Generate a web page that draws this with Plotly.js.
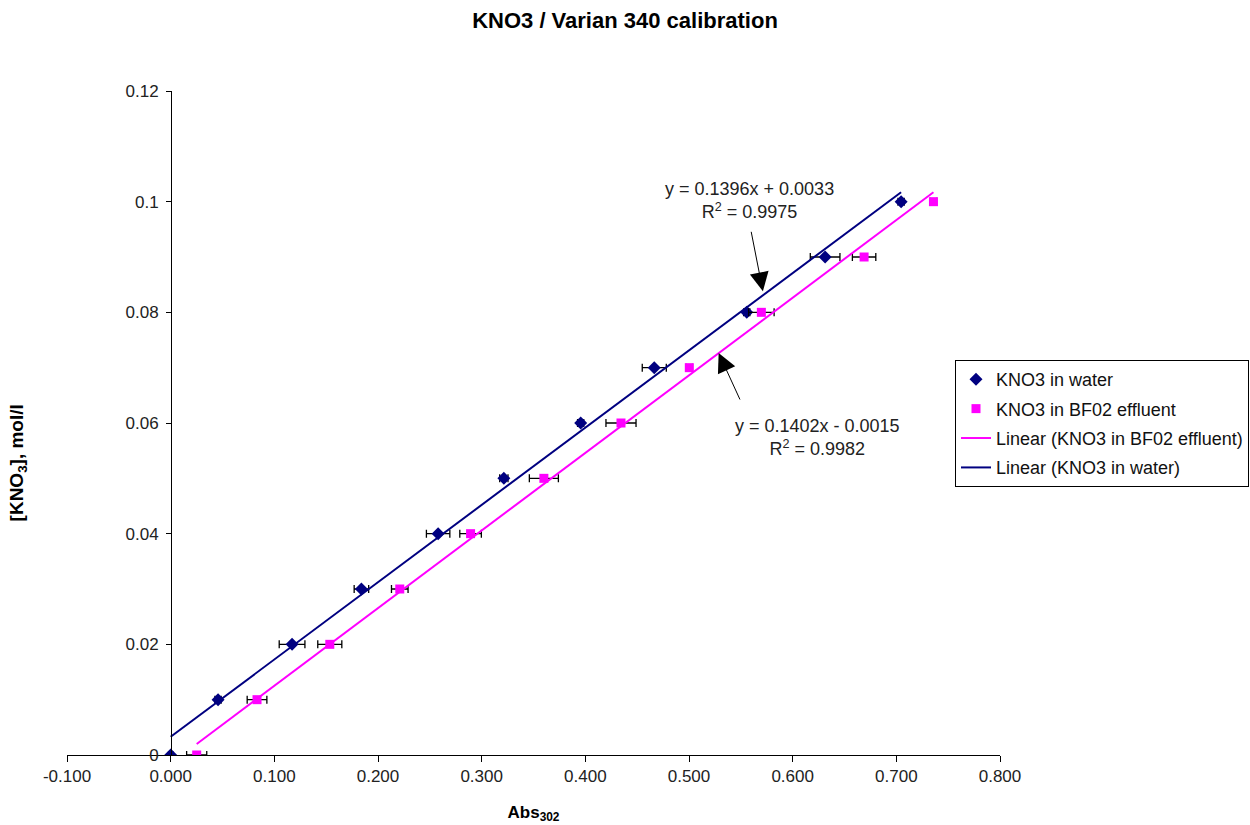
<!DOCTYPE html>
<html>
<head>
<meta charset="utf-8">
<script src="https://cdn.plot.ly/plotly-3.0.1.min.js"></script>
<style>html,body{margin:0;padding:0;background:#fff;}#chart{width:1250px;height:825px;}</style>
</head>
<body>
<div id="chart"></div>
<script>
// KNO3 concentration levels (mol/l)
var concWater = [0, 0.01, 0.02, 0.03, 0.04, 0.05, 0.06, 0.07, 0.08, 0.09, 0.1];
var absWater  = [0.000, 0.0457, 0.1171, 0.184, 0.258, 0.3214, 0.3955, 0.4665, 0.5557, 0.6313, 0.7046];
var errWater  = [0.002, 0.003, 0.0124, 0.007, 0.0113, 0.004, 0.003, 0.0116, 0.003, 0.0143, 0.003];

var concBF = [0, 0.01, 0.02, 0.03, 0.04, 0.05, 0.06, 0.07, 0.08, 0.09, 0.1];
var absBF  = [0.0251, 0.0833, 0.1535, 0.221, 0.2893, 0.360, 0.4344, 0.5003, 0.5698, 0.6689, 0.7358];
var errBF  = [0.0097, 0.0095, 0.0116, 0.008, 0.0104, 0.014, 0.0145, 0.003, 0.0123, 0.0113, 0.003];

// Linear trendline end points
var fitWaterX = [0.000, 0.7046];
var fitWaterY = [0.0033, 0.1017];
var fitBFX = [0.0251, 0.7358];
var fitBFY = [0.0020, 0.1017];

var xTicks = [-0.1, 0, 0.1, 0.2, 0.3, 0.4, 0.5, 0.6, 0.7, 0.8];
var xTickText = xTicks.map(function (v) { return v.toFixed(3); });
var yTicks = [0, 0.02, 0.04, 0.06, 0.08, 0.1, 0.12];
var yTickText = ['0', '0.02', '0.04', '0.06', '0.08', '0.1', '0.12'];

var FONT = 'Liberation Sans, Arial, sans-serif';

var traces = [
  {
    x: absWater, y: concWater, type: 'scatter', mode: 'markers', name: 'KNO3 in water', legendgroup: 'g1',
    marker: {symbol: 'diamond', size: 10, color: '#000080'},
    error_x: {type: 'data', array: errWater, symmetric: true, color: '#000000', thickness: 1.3, width: 4}
  },
  {
    x: absBF, y: concBF, type: 'scatter', mode: 'markers', name: 'KNO3 in BF02 effluent', legendgroup: 'g2',
    marker: {symbol: 'square', size: 9, color: '#FF00FF'},
    error_x: {type: 'data', array: errBF, symmetric: true, color: '#000000', thickness: 1.3, width: 4}
  },
  {
    x: fitBFX, y: fitBFY, type: 'scatter', mode: 'lines', name: 'Linear (KNO3 in BF02 effluent)', legendgroup: 'g3',
    line: {color: '#FF00FF', width: 2}
  },
  {
    x: fitWaterX, y: fitWaterY, type: 'scatter', mode: 'lines', name: 'Linear (KNO3 in water)', legendgroup: 'g4',
    line: {color: '#000080', width: 2}
  }
];

var layout = {
  width: 1250, height: 825,
  paper_bgcolor: '#ffffff', plot_bgcolor: '#ffffff',
  margin: {l: 67, r: 250, t: 91, b: 70, autoexpand: false},
  font: {family: FONT, size: 17, color: '#000000'},
  title: {text: '<b>KNO3 / Varian 340 calibration</b>', x: 0.5, xref: 'container', xanchor: 'center', y: 0.975, yref: 'container', yanchor: 'middle', font: {family: FONT, size: 22, color: '#000'}},
  xaxis: {
    range: [-0.1, 0.8], tickvals: xTicks, ticktext: xTickText, automargin: false,
    showgrid: false, zeroline: false, showline: true, linecolor: '#000', linewidth: 1,
    ticks: 'outside', ticklen: 6, tickcolor: '#000', tickfont: {size: 17, color: '#222'},
    title: {text: '<b>Abs<sub>302</sub></b>', font: {size: 17}, standoff: 20}
  },
  yaxis: {
    range: [0, 0.12], tickvals: yTicks, ticktext: yTickText, anchor: 'free', position: 0.1115, automargin: false,
    showgrid: false, zeroline: false, showline: true, linecolor: '#000', linewidth: 1,
    ticks: 'outside', ticklen: 5, tickcolor: '#000', tickfont: {size: 17, color: '#222'},
    ticklabelstandoff: 4
  },
  showlegend: true,
  legend: {
    x: 0.764, y: 0.5636, xanchor: 'left', yanchor: 'top', xref: 'container', yref: 'container',
    bgcolor: '#ffffff', bordercolor: '#000', borderwidth: 1,
    font: {size: 18, color: '#111'}, itemwidth: 30, tracegroupgap: 3
  },
  annotations: [
    {xref: 'paper', yref: 'paper', x: -0.068, y: 0.44, text: '<b>[KNO<sub>3</sub>], mol/l</b>', textangle: -90, showarrow: false, font: {size: 19}},
    {x: 0.5585, y: 0.1003, text: 'y = 0.1396x + 0.0033<br>R<sup>2</sup> = 0.9975', showarrow: false, font: {size: 18, color: '#222'}, xanchor: 'center', yanchor: 'middle'},
    {x: 0.6241, y: 0.0574, text: 'y = 0.1402x - 0.0015<br>R<sup>2</sup> = 0.9982', showarrow: false, font: {size: 18, color: '#222'}, xanchor: 'center', yanchor: 'middle'},
    {x: 0.5713, y: 0.0838, text: '', showarrow: true, ax: -12, ay: -61, arrowhead: 2, arrowsize: 3.8, arrowwidth: 1, arrowcolor: '#000'},
    {x: 0.5286, y: 0.07265, text: '', showarrow: true, ax: 22, ay: 48, arrowhead: 2, arrowsize: 3.8, arrowwidth: 1, arrowcolor: '#000'}
  ]
};

Plotly.newPlot('chart', traces, layout, {displayModeBar: false, responsive: false});
</script>
</body>
</html>
